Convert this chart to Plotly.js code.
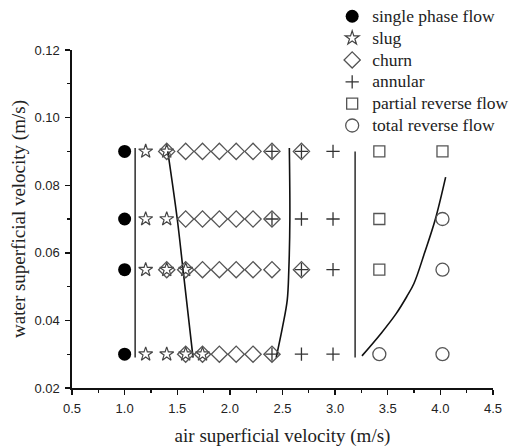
<!DOCTYPE html>
<html><head><meta charset="utf-8">
<script src="https://cdn.plot.ly/plotly-3.0.1.min.js"></script>
<style>html,body{margin:0;padding:0;background:#fff}#chart{width:512px;height:447px}</style>
</head><body><div id="chart"></div>
<script>
// Flow regime observations (air superficial velocity, water superficial velocity)
const singleX = [1.0, 1.0, 1.0, 1.0];
const singleY = [0.09, 0.07, 0.055, 0.03];
const slugX = [1.2, 1.4, 1.2, 1.4, 1.2, 1.4, 1.58, 1.2, 1.4, 1.58, 1.74];
const slugY = [0.09, 0.09, 0.07, 0.07, 0.055, 0.055, 0.055, 0.03, 0.03, 0.03, 0.03];
const churnX = [1.4, 1.58, 1.74, 1.9, 2.06, 2.22, 2.4, 2.68,
                1.58, 1.74, 1.9, 2.06, 2.22, 2.4,
                1.4, 1.58, 1.74, 1.9, 2.06, 2.22, 2.4, 2.68,
                1.58, 1.74, 1.9, 2.06, 2.22, 2.4];
const churnY = [0.09, 0.09, 0.09, 0.09, 0.09, 0.09, 0.09, 0.09,
                0.07, 0.07, 0.07, 0.07, 0.07, 0.07,
                0.055, 0.055, 0.055, 0.055, 0.055, 0.055, 0.055, 0.055,
                0.03, 0.03, 0.03, 0.03, 0.03, 0.03];
const annularX = [2.4, 2.68, 2.98, 2.4, 2.68, 2.98, 2.68, 2.98, 2.4, 2.68, 2.98];
const annularY = [0.09, 0.09, 0.09, 0.07, 0.07, 0.07, 0.055, 0.055, 0.03, 0.03, 0.03];
const partialX = [3.42, 4.02, 3.42, 3.42];
const partialY = [0.09, 0.09, 0.07, 0.055];
const totalX = [4.02, 4.02, 3.42, 4.02];
const totalY = [0.07, 0.055, 0.03, 0.03];

// Regime boundary lines
const bound1X = [1.1, 1.1];
const bound1Y = [0.029, 0.091];
const bound2X = [1.41, 1.5, 1.555, 1.65];
const bound2Y = [0.09, 0.07, 0.055, 0.029];
const bound3X = [2.565, 2.57, 2.56, 2.545, 2.5, 2.44];
const bound3Y = [0.091, 0.07, 0.055, 0.046, 0.038, 0.029];
const bound4X = [3.19, 3.19];
const bound4Y = [0.029, 0.09];
const bound5X = [3.255, 3.44, 3.58, 3.68, 3.75, 3.85, 3.95, 4.05];
const bound5Y = [0.0295, 0.0363, 0.042, 0.047, 0.051, 0.06, 0.0697, 0.0824];

// Legend labels
const names = ['single phase flow', 'slug', 'churn', 'annular', 'partial reverse flow', 'total reverse flow'];
const lbl = s => '<span style="font-size:17.5px">' + s + '</span>';

const lineTrace = (x, y, color, shape) => ({
  x, y, mode: 'lines', type: 'scatter', showlegend: false, hoverinfo: 'skip',
  line: {color, width: 1.6, shape: shape || 'linear', smoothing: 1}
});

const data = [
  lineTrace(bound1X, bound1Y, '#3a3a3a'),
  lineTrace(bound2X, bound2Y, '#111', 'spline'),
  lineTrace(bound3X, bound3Y, '#111', 'spline'),
  lineTrace(bound4X, bound4Y, '#3a3a3a'),
  lineTrace(bound5X, bound5Y, '#111', 'spline'),
  {x: singleX, y: singleY, name: lbl(names[0]), mode: 'markers', type: 'scatter',
   marker: {symbol: 'circle', size: 13, color: '#000'}},
  {x: slugX, y: slugY, name: lbl(names[1]), mode: 'markers', type: 'scatter',
   marker: {symbol: 'star-open', size: 10.5, color: '#444', line: {width: 1.2}}},
  {x: churnX, y: churnY, name: lbl(names[2]), mode: 'markers', type: 'scatter',
   marker: {symbol: 'diamond-open', size: 12.5, color: '#555', line: {width: 1.3}}},
  {x: annularX, y: annularY, name: lbl(names[3]), mode: 'markers', type: 'scatter',
   marker: {symbol: 'cross-thin-open', size: 9.5, color: '#333', line: {width: 1.3}}},
  {x: partialX, y: partialY, name: lbl(names[4]), mode: 'markers', type: 'scatter',
   marker: {symbol: 'square-open', size: 11, color: '#555', line: {width: 1.3}}},
  {x: totalX, y: totalY, name: lbl(names[5]), mode: 'markers', type: 'scatter',
   marker: {symbol: 'circle-open', size: 13, color: '#555', line: {width: 1.3}}}
];

const tickFont = {family: 'Liberation Sans, Arial, sans-serif', size: 13, color: '#222'};
const titleFont = {family: 'Liberation Serif, Times New Roman, serif', size: 19, color: '#222'};

const layout = {
  width: 512, height: 447,
  margin: {l: 72, r: 19, t: 50, b: 59, autoexpand: false},
  paper_bgcolor: '#fff', plot_bgcolor: '#fff',
  showlegend: true,
  legend: {x: 0.618, xanchor: 'left', y: 1.147, yanchor: 'top',
           bgcolor: 'rgba(0,0,0,0)', borderwidth: 0,
           font: {family: 'Liberation Serif, Times New Roman, serif', size: 14.5, color: '#222'}},
  xaxis: {
    range: [0.5, 4.5], dtick: 0.5, tick0: 0.5, tickformat: '.1f',
    showgrid: false, zeroline: false, showline: true, linecolor: '#111', linewidth: 1.6,
    ticks: 'outside', ticklen: 5, tickwidth: 1.4, tickcolor: '#111',
    minor: {dtick: 0.25, ticks: 'outside', ticklen: 3, tickwidth: 1.2, tickcolor: '#111', showgrid: false},
    tickfont: tickFont, ticklabelstandoff: 3,
    title: {text: 'air superficial velocity (m/s)', font: titleFont, standoff: 14}
  },
  yaxis: {
    range: [0.02, 0.12], dtick: 0.02, tick0: 0.02, tickformat: '.2f',
    showgrid: false, zeroline: false, showline: true, linecolor: '#111', linewidth: 1.6,
    ticks: 'outside', ticklen: 5, tickwidth: 1.4, tickcolor: '#111',
    minor: {dtick: 0.01, ticks: 'outside', ticklen: 3, tickwidth: 1.2, tickcolor: '#111', showgrid: false},
    tickfont: tickFont, ticklabelstandoff: 3,
    title: {text: 'water superficial velocity (m/s)', font: titleFont, standoff: 4}
  }
};

Plotly.newPlot('chart', data, layout, {displayModeBar: false, staticPlot: true});
</script>
</body></html>
